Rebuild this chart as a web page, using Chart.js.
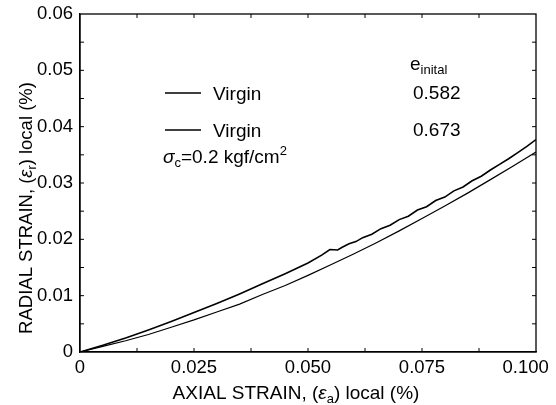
<!DOCTYPE html>
<html>
<head>
<meta charset="utf-8">
<script src="https://cdn.jsdelivr.net/npm/chart.js@4/dist/chart.umd.min.js"></script>
<style>
  html, body { margin: 0; padding: 0; background: #fff; }
  #wrap { width: 556px; height: 405px; }
</style>
</head>
<body>
<div id="wrap"><canvas id="strainChart" width="556" height="405"></canvas></div>
<script>
// axial strain (%) / radial strain (%)
const axialHigh  = [0, 0.005, 0.010, 0.015, 0.020, 0.025, 0.030, 0.035, 0.040, 0.045, 0.050, 0.053, 0.0548,
                    0.0565, 0.0575, 0.059, 0.0605, 0.062, 0.064, 0.066, 0.068, 0.070, 0.072, 0.074, 0.076,
                    0.078, 0.080, 0.082, 0.084, 0.086, 0.088, 0.090, 0.092, 0.094, 0.096, 0.098, 0.100];
const radialHigh = [0, 0.0012, 0.0025, 0.0039, 0.0054, 0.0070, 0.0086, 0.0103, 0.0121, 0.0139, 0.0158, 0.0172, 0.0182,
                    0.0181, 0.0186, 0.0192, 0.0196, 0.0203, 0.0209, 0.0219, 0.0225, 0.0235, 0.0241, 0.0252, 0.0258,
                    0.0269, 0.0275, 0.0286, 0.0293, 0.0304, 0.0312, 0.0323, 0.0333, 0.0343, 0.0354, 0.0365, 0.0377];
const axialLow   = [0, 0.005, 0.010, 0.015, 0.020, 0.025, 0.030, 0.035, 0.040, 0.045, 0.050, 0.055, 0.060,
                    0.065, 0.070, 0.075, 0.080, 0.085, 0.090, 0.095, 0.100];
const radialLow  = [0, 0.0010, 0.0020, 0.0031, 0.0044, 0.0057, 0.0071, 0.0085, 0.0102, 0.0118, 0.0136, 0.0155, 0.0174,
                    0.0194, 0.0215, 0.0237, 0.0259, 0.0282, 0.0306, 0.0330, 0.0355];

const xTicks = [0, 0.025, 0.05, 0.075, 0.1];
const xTickLabels = ['0', '0.025', '0.050', '0.075', '0.100\u00a0\u00a0\u00a0\u00a0'];
const yTicks = [0, 0.01, 0.02, 0.03, 0.04, 0.05, 0.06];
const yTickLabels = ['0', '0.01', '0.02', '0.03', '0.04', '0.05', '0.06'];
const seriesNames = ['Virgin', 'Virgin'];
const voidRatios = ['0.582', '0.673'];

const FONT = '"Liberation Sans", Arial, Helvetica, sans-serif';

function pts(xs, ys) {
  return xs.map((x, i) => ({ x: x, y: ys[i] }));
}

// draw a run of text pieces: [text, size, italic, dy]
function drawRuns(ctx, x, y, runs) {
  runs.forEach(r => {
    ctx.font = (r[2] ? 'italic ' : '') + r[1] + 'px ' + FONT;
    ctx.fillText(r[0], x, y + (r[3] || 0));
    x += ctx.measureText(r[0]).width;
  });
  return x;
}
function runsWidth(ctx, runs) {
  let w = 0;
  runs.forEach(r => {
    ctx.font = (r[2] ? 'italic ' : '') + r[1] + 'px ' + FONT;
    w += ctx.measureText(r[0]).width;
  });
  return w;
}

const decor = {
  id: 'decor',
  afterDraw(chart) {
    const ctx = chart.ctx;
    const a = chart.chartArea;
    const xs = chart.scales.x, ys = chart.scales.y;
    ctx.save();
    ctx.strokeStyle = '#000';
    ctx.fillStyle = '#000';
    ctx.lineWidth = 1.3;
    ctx.strokeRect(a.left, a.top, a.right - a.left, a.bottom - a.top);

    // inward ticks on all four sides, every half step
    ctx.lineWidth = 1;
    ctx.beginPath();
    for (let i = 1; i < xTicks.length * 2 - 2; i++) {
      const v = xTicks[0] + i * (xTicks[1] - xTicks[0]) / 2;
      const px = xs.getPixelForValue(v);
      ctx.moveTo(px, a.bottom); ctx.lineTo(px, a.bottom - 4);
      ctx.moveTo(px, a.top); ctx.lineTo(px, a.top + 4);
    }
    for (let i = 1; i < yTicks.length * 2 - 2; i++) {
      const v = yTicks[0] + i * (yTicks[1] - yTicks[0]) / 2;
      const py = ys.getPixelForValue(v);
      ctx.moveTo(a.left, py); ctx.lineTo(a.left + 4, py);
      ctx.moveTo(a.right, py); ctx.lineTo(a.right - 4, py);
    }
    ctx.stroke();

    ctx.textBaseline = 'alphabetic';
    ctx.textAlign = 'left';

    // x axis title
    const xt = [['AXIAL STRAIN, (', 19], ['\u03b5', 19, true], ['a', 13, false, 4], [') local (%)', 19]];
    drawRuns(ctx, 296 - runsWidth(ctx, xt) / 2, 399, xt);

    // y axis title
    const yt = [['RADIAL STRAIN, (', 18.5], ['\u03b5', 18.5, true], ['r', 12.5, false, 4], [') local (%)', 18.5]];
    ctx.save();
    ctx.translate(32, 208);
    ctx.rotate(-Math.PI / 2);
    drawRuns(ctx, -runsWidth(ctx, yt) / 2, 0, yt);
    ctx.restore();

    // legend block
    drawRuns(ctx, 410, 70, [['e', 19], ['inital', 13, false, 4]]);
    const rows = [93, 130];
    const widths = [1.3, 1.6];
    rows.forEach((yy, i) => {
      ctx.lineWidth = widths[i];
      ctx.beginPath();
      ctx.moveTo(165, yy); ctx.lineTo(201, yy);
      ctx.stroke();
      drawRuns(ctx, 213, yy + 7, [[seriesNames[i], 19]]);
      drawRuns(ctx, 413, yy + 6, [[voidRatios[i], 19]]);
    });
    drawRuns(ctx, 163, 163, [['\u03c3', 19, true], ['c', 13, false, 4], ['=0.2 kgf/cm', 19], ['2', 13, false, -8]]);
    ctx.restore();
  }
};

new Chart(document.getElementById('strainChart'), {
  type: 'scatter',
  data: {
    datasets: [
      {
        label: seriesNames[0] + ' ' + voidRatios[0],
        data: pts(axialLow, radialLow),
        showLine: true,
        borderColor: '#000',
        borderWidth: 1.2,
        pointRadius: 0,
        tension: 0
      },
      {
        label: seriesNames[1] + ' ' + voidRatios[1],
        data: pts(axialHigh, radialHigh),
        showLine: true,
        borderColor: '#000',
        borderWidth: 1.6,
        pointRadius: 0,
        tension: 0
      }
    ]
  },
  options: {
    responsive: false,
    animation: false,
    layout: { padding: { top: 14, right: 20, left: 0, bottom: 0 } },
    plugins: { legend: { display: false }, tooltip: { enabled: false } },
    scales: {
      x: {
        type: 'linear',
        min: 0, max: 0.1,
        afterBuildTicks: s => { s.ticks = xTicks.map(v => ({ value: v })); },
        afterFit: s => { s.height = 53; s.paddingLeft = 0; s.paddingRight = 0; },
        grid: { display: false, drawTicks: false },
        border: { display: true, color: '#000', width: 1.3 },
        ticks: {
          color: '#000', padding: 5, maxRotation: 0,
          font: { family: FONT, size: 18.5 },
          callback: (v, i) => xTickLabels[i]
        }
      },
      y: {
        type: 'linear',
        min: 0, max: 0.06,
        afterBuildTicks: s => { s.ticks = yTicks.map(v => ({ value: v })); },
        afterFit: s => { s.width = 80; s.paddingTop = 0; s.paddingBottom = 0; },
        grid: { display: false, drawTicks: false },
        border: { display: true, color: '#000', width: 1.3 },
        ticks: {
          color: '#000', padding: 7,
          font: { family: FONT, size: 18.5 },
          callback: (v, i) => yTickLabels[i]
        }
      }
    }
  },
  plugins: [decor]
});
</script>
</body>
</html>
